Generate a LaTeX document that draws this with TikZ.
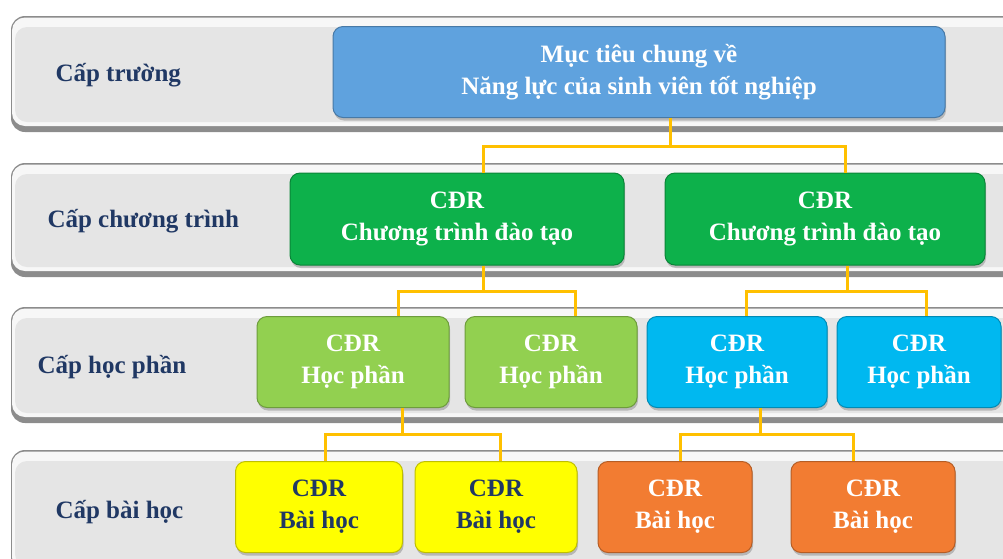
\documentclass[tikz,border=0pt]{standalone}
\usepackage{fontspec}
\setmainfont{Liberation Serif}
\usetikzlibrary{shadows}

\definecolor{navy}{HTML}{203864}
\definecolor{goalc}{HTML}{5FA2DE}
\definecolor{ctdtc}{HTML}{0DB14B}
\definecolor{hpa}{HTML}{92D050}
\definecolor{hpb}{HTML}{00B8F0}
\definecolor{bha}{HTML}{FFFF00}
\definecolor{bhb}{HTML}{F27C32}
\definecolor{linkc}{HTML}{FFC000}

\begin{document}
\begin{tikzpicture}[x=1pt,y=-1pt,
  level/.style={font=\fontsize{25}{32}\selectfont\bfseries, text=navy, anchor=west},
  box/.style={rounded corners=10pt, align=center, text=white, inner sep=0pt,
    font=\fontsize{25}{32}\selectfont\bfseries, minimum height=91pt, line width=1pt,
    drop shadow={shadow xshift=1pt, shadow yshift=-3pt, opacity=0.45}},
  link/.style={draw=linkc, line width=3pt}]
  \path[use as bounding box] (0,0) rectangle (1003,558);
  \clip (0,0) rectangle (1003,558);

  % bands
  \foreach \ya/\yb in {16/130,163/275,307/421,450/574}{
    \fill[black!45, rounded corners=14pt] (11,\ya) rectangle (1020,\yb+2);
    \fill[black!3, rounded corners=13pt] (12,\ya+1.5) rectangle (1020,\yb-4);
    \fill[black!10, rounded corners=12pt] (15,\ya+11) rectangle (1020,\yb-8);
  }

  \node[level] (l1) at (52,75) {Cấp trường};
  \node[level] (l2) at (44,221) {Cấp chương trình};
  \node[level] (l3) at (34,367) {Cấp học phần};
  \node[level] (l4) at (52,512) {Cấp bài học};

  % connectors
  \coordinate (j1) at (670,146);
  \coordinate (j2) at (483,291);
  \coordinate (j3) at (847,291);
  \coordinate (j4) at (402,434);
  \coordinate (j5) at (760,434);

  \node[box, fill=goalc, draw=goalc!75!black, minimum width=612pt] (goal) at (639,72)
    {Mục tiêu chung về\\Năng lực của sinh viên tốt nghiệp};

  \node[box, fill=ctdtc, draw=ctdtc!75!black, minimum width=334pt, minimum height=92pt] (ctdt1) at (457,219)
    {CĐR\\Chương trình đào tạo};
  \node[box, fill=ctdtc, draw=ctdtc!75!black, minimum width=320pt, minimum height=92pt] (ctdt2) at (825,219)
    {CĐR\\Chương trình đào tạo};

  \node[box, fill=hpa, draw=hpa!75!black, minimum width=192pt] (hp1) at (353,362) {CĐR\\Học phần};
  \node[box, fill=hpa, draw=hpa!75!black, minimum width=172pt] (hp2) at (551,362) {CĐR\\Học phần};
  \node[box, fill=hpb, draw=hpb!75!black, minimum width=180pt] (hp3) at (737,362) {CĐR\\Học phần};
  \node[box, fill=hpb, draw=hpb!75!black, minimum width=164pt] (hp4) at (919,362) {CĐR\\Học phần};

  \node[box, fill=bha, draw=bha!75!black, text=navy, minimum width=167pt] (bh1) at (319,507) {CĐR\\Bài học};
  \node[box, fill=bha, draw=bha!75!black, text=navy, minimum width=162pt] (bh2) at (496,507) {CĐR\\Bài học};
  \node[box, fill=bhb, draw=bhb!75!black, minimum width=154pt] (bh3) at (675,507) {CĐR\\Bài học};
  \node[box, fill=bhb, draw=bhb!75!black, minimum width=164pt] (bh4) at (873,507) {CĐR\\Bài học};

  \draw[link] ([xshift=31pt]goal.south) -- (j1);
  \draw[link] ([xshift=26pt]ctdt1.north) |- (j1) -| ([xshift=20pt]ctdt2.north);
  \draw[link] ([xshift=26pt]ctdt1.south) -- (j2);
  \draw[link] ([xshift=45pt]hp1.north) |- (j2) -| ([xshift=24pt]hp2.north);
  \draw[link] ([xshift=22pt]ctdt2.south) -- (j3);
  \draw[link] ([xshift=9pt]hp3.north) |- (j3) -| ([xshift=7pt]hp4.north);
  \draw[link] ([xshift=49pt]hp1.south) -- (j4);
  \draw[link] ([xshift=6pt]bh1.north) |- (j4) -| ([xshift=4pt]bh2.north);
  \draw[link] ([xshift=23pt]hp3.south) -- (j5);
  \draw[link] ([xshift=5pt]bh3.north) |- (j5) -| ([xshift=-20pt]bh4.north);
\end{tikzpicture}
\end{document}
